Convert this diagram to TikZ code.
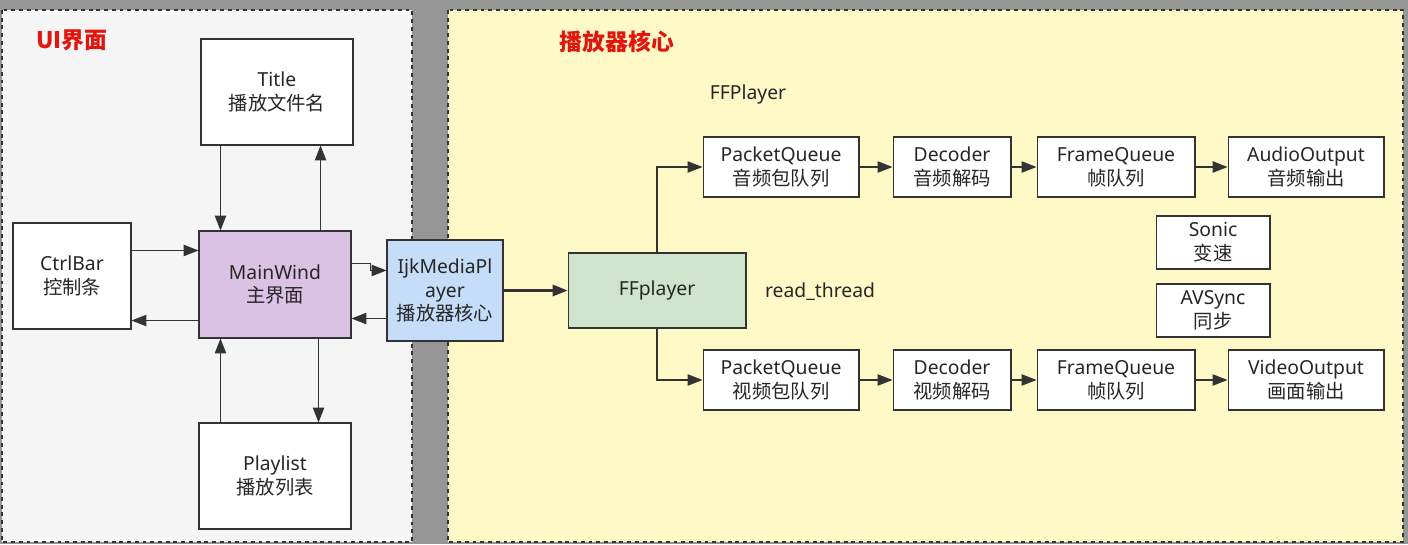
\documentclass[tikz,border=0pt]{standalone}
\usepackage{fontspec}
\setmainfont{Noto Sans}
\newfontfamily\cjk{Noto Sans CJK SC}
\usetikzlibrary{arrows.meta}
\definecolor{bggray}{RGB}{150,150,150}
\definecolor{uifill}{RGB}{245,245,245}
\definecolor{corefill}{RGB}{255,249,200}
\definecolor{linegray}{RGB}{51,51,51}
\definecolor{textgray}{RGB}{38,38,38}
\definecolor{mainfill}{RGB}{219,194,228}
\definecolor{ijkfill}{RGB}{197,221,248}
\definecolor{fffill}{RGB}{207,228,205}
\definecolor{titlered}{RGB}{228,20,14}
\begin{document}
\begin{tikzpicture}[x=0.02cm,y=-0.02cm,
	box/.style={draw=linegray, fill=white, line width=0.6pt, align=center,
		text=textgray, inner sep=0pt, font=\fontsize{11}{13.5}\selectfont},
	arr/.style={draw=linegray, line width=0.6pt, -{Triangle[length=8.5pt,width=6.5pt]}},
	panel/.style={draw=black!80, line width=0.6pt, dash pattern=on 2.2pt off 2.2pt},
	paneltitle/.style={text=titlered, font=\cjk\bfseries\fontsize{13}{15}\selectfont}]
	% fond et panneaux
	\fill[bggray] (0,0) rectangle (1408,544);
	\filldraw[panel, fill=uifill] (2,10) rectangle (412,542);
	\filldraw[panel, fill=corefill] (448,10) rectangle (1403,542);
	\node[paneltitle] (uititle) at (72,40) {UI界面};
	\node[paneltitle] (coretitle) at (617,42) {播放器核心};
	% UI
	\node[box, minimum width=3.04cm, minimum height=2.12cm] (title) at (277,92) {Title\\{\cjk 播放文件名}};
	\node[box, minimum width=2.36cm, minimum height=2.12cm] (ctrl) at (72,276) {CtrlBar\\{\cjk 控制条}};
	\node[box, fill=mainfill, minimum width=3.04cm, minimum height=2.14cm] (main) at (275,284.5) {MainWind\\{\cjk 主界面}};
	\node[box, minimum width=3.04cm, minimum height=2.12cm] (play) at (275,476) {Playlist\\{\cjk 播放列表}};
	\node[box, fill=ijkfill, minimum width=2.32cm, minimum height=2.02cm] (ijk) at (445,290.5) {IjkMediaPl\\ayer\\{\cjk 播放器核心}};
	% coeur
	\node[box, fill=fffill, minimum width=3.56cm, minimum height=1.5cm] (ff) at (657,290.5) {FFplayer};
	\node[text=textgray, font=\fontsize{11}{13.5}\selectfont] (fflabel) at (748,94) {FFPlayer};
	\node[text=textgray, font=\fontsize{11}{13.5}\selectfont] (readth) at (820,292) {read\_thread};
	\node[box, minimum width=3.12cm, minimum height=1.2cm] (pqa) at (781,167) {PacketQueue\\{\cjk 音频包队列}};
	\node[box, minimum width=2.36cm, minimum height=1.2cm] (deca) at (952,167) {Decoder\\{\cjk 音频解码}};
	\node[box, minimum width=3.16cm, minimum height=1.2cm] (fqa) at (1116,167) {FrameQueue\\{\cjk 帧队列}};
	\node[box, minimum width=3.12cm, minimum height=1.2cm] (aout) at (1306,167) {AudioOutput\\{\cjk 音频输出}};
	\node[box, minimum width=2.28cm, minimum height=1.06cm] (sonic) at (1213,242.5) {Sonic\\{\cjk 变速}};
	\node[box, minimum width=2.28cm, minimum height=1.06cm] (avsync) at (1213,310.5) {AVSync\\{\cjk 同步}};
	\node[box, minimum width=3.12cm, minimum height=1.2cm] (pqv) at (781,380) {PacketQueue\\{\cjk 视频包队列}};
	\node[box, minimum width=2.36cm, minimum height=1.2cm] (decv) at (952,380) {Decoder\\{\cjk 视频解码}};
	\node[box, minimum width=3.16cm, minimum height=1.2cm] (fqv) at (1116,380) {FrameQueue\\{\cjk 帧队列}};
	\node[box, minimum width=3.12cm, minimum height=1.2cm] (vout) at (1306,380) {VideoOutput\\{\cjk 画面输出}};
	% fleches UI
	\draw[arr] ([xshift=0.4cm]title.south west) -- ([xshift=0.4cm]title.south west |- main.north);
	\draw[arr] ([xshift=-0.62cm]main.north east) -- ([xshift=-0.62cm]main.north east |- title.south);
	\draw[arr] ([xshift=0.44cm]play.north west) -- ([xshift=0.44cm]play.north west |- main.south);
	\draw[arr] ([xshift=-0.66cm]main.south east) -- ([xshift=-0.66cm]main.south east |- play.north);
	\draw[arr] ([yshift=-0.56cm]ctrl.north east) -- ([yshift=-0.56cm]ctrl.north east -| main.west);
	\draw[arr] ([yshift=0.36cm]main.south west) -- ([yshift=0.36cm]main.south west -| ctrl.east);
	\draw[arr] ([yshift=-0.66cm]main.north east) -- ++(19,0) |- ([yshift=-0.62cm]ijk.north west);
	\draw[arr] ([yshift=0.46cm]ijk.south west) -- ([yshift=0.46cm]ijk.south west -| main.east);
	\draw[arr, line width=1.2pt] (ijk) -- (ff);
	% fleches coeur
	\draw[arr] (ff.north) |- (pqa.west);
	\draw[arr] (ff.south) |- (pqv.west);
	\draw[arr] (pqa) -- (deca);
	\draw[arr] (deca) -- (fqa);
	\draw[arr] (fqa) -- (aout);
	\draw[arr] (pqv) -- (decv);
	\draw[arr] (decv) -- (fqv);
	\draw[arr] (fqv) -- (vout);
\end{tikzpicture}
\end{document}
